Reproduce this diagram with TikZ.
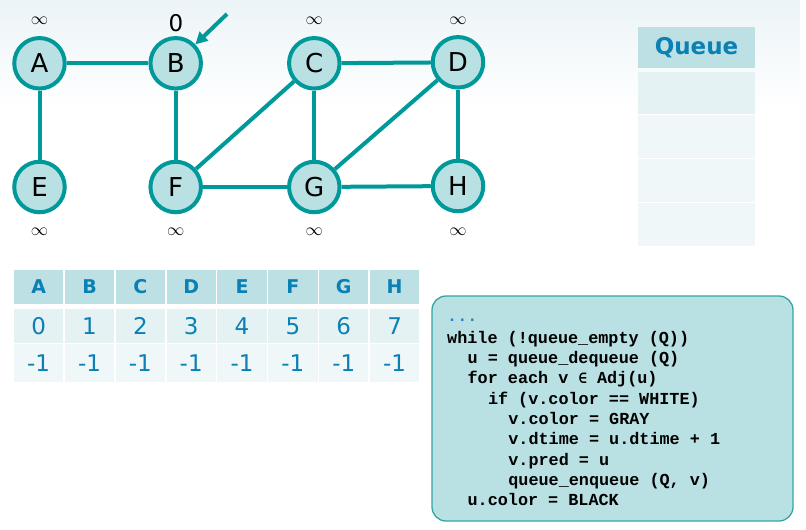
\documentclass[tikz,border=0pt]{standalone}
\usepackage{fontspec}
\setmainfont{DejaVu Sans}
\newfontfamily\codefont{Liberation Mono}
\newfontfamily\symfont{DejaVu Sans Mono}
\usetikzlibrary{arrows.meta}
\definecolor{tealA}{RGB}{0,153,153}
\definecolor{nodefill}{RGB}{185,224,227}
\definecolor{hdrfill}{RGB}{188,224,228}
\definecolor{rowA}{RGB}{229,242,244}
\definecolor{rowB}{RGB}{240,247,249}
\definecolor{txtblue}{RGB}{10,128,180}
\definecolor{codefill}{RGB}{185,224,227}
\definecolor{codeedge}{RGB}{50,165,165}
\definecolor{dotblue}{RGB}{30,130,210}
\definecolor{bgtop}{RGB}{236,244,247}
\tikzset{
  vert/.style={circle, draw=tealA, line width=4pt, fill=nodefill, minimum size=50.5pt,
    inner sep=0pt, font=\fontsize{26}{26}\selectfont},
  edge/.style={draw=tealA, line width=4pt},
  inflab/.style={inner sep=0pt, font=\fontsize{17}{17}\selectfont},
  hcell/.style={fill=hdrfill, minimum width=49.3pt, minimum height=34.5pt, inner sep=0pt,
    text=txtblue, font=\fontsize{19}{19}\selectfont\bfseries},
  ncell/.style={fill=rowA, minimum width=49.3pt, minimum height=34.8pt, inner sep=0pt,
    text=txtblue, font=\fontsize{23}{23}\selectfont},
  pcell/.style={fill=rowB, minimum width=49.3pt, minimum height=37.7pt, inner sep=0pt,
    text=txtblue, font=\fontsize{23}{23}\selectfont},
  qhead/.style={fill=hdrfill, minimum width=117pt, minimum height=41pt, inner sep=0pt,
    text=txtblue, font=\fontsize{23}{23}\selectfont\bfseries},
  qrow/.style={minimum width=117pt, minimum height=42.5pt, inner sep=0pt},
  codeline/.style={anchor=base west, inner sep=0pt, font=\fontsize{16.8}{16.8}\codefont\bfseries},
}
\begin{document}
\begin{tikzpicture}[x=1pt,y=-1pt]
\useasboundingbox (0,0) rectangle (806,530);
\fill[top color=bgtop, bottom color=white] (0,0) rectangle (800,110);

% graph vertices
\node[vert] (A) at (39.5,63.3) {A};
\node[vert] (B) at (175.7,63.3) {B};
\node[vert] (C) at (314.3,63.3) {C};
\node[vert] (D) at (458,62.3) {D};
\node[vert] (E) at (39.5,187) {E};
\node[vert] (F) at (175.7,187) {F};
\node[vert] (G) at (314.3,187) {G};
\node[vert] (H) at (458,186) {H};

% edges
\draw[edge] (A) -- (B);
\draw[edge] (A) -- (E);
\draw[edge] (B) -- (F);
\draw[edge] (C) -- (D);
\draw[edge] (C) -- (F);
\draw[edge] (C) -- (G);
\draw[edge] (D) -- (G);
\draw[edge] (D) -- (H);
\draw[edge] (F) -- (G);
\draw[edge] (G) -- (H);

% start arrow
\coordinate (arrS) at (227,14);
\draw[edge, -{Triangle[length=12pt,width=12pt]}] (arrS) -- (B);

% distance labels
\node[inflab] (lA) at (39.5,20.5) {$\infty$};
\node[inner sep=0pt, font=\fontsize{23}{23}\selectfont] (lB) at (176,23.5) {0};
\node[inflab] (lC) at (314.3,20.5) {$\infty$};
\node[inflab] (lD) at (458,21) {$\infty$};
\node[inflab] (lE) at (39.5,231.7) {$\infty$};
\node[inflab] (lF) at (175.7,231.7) {$\infty$};
\node[inflab] (lG) at (314.3,231.7) {$\infty$};
\node[inflab] (lH) at (458,231.7) {$\infty$};

% queue
\node[qhead] (qh) at (696.5,47.5) {Queue};
\node[qrow, fill=rowA] (q1) at (696.5,93) {};
\node[qrow, fill=rowB] (q2) at (696.5,136.5) {};
\node[qrow, fill=rowB] (q3) at (696.5,180.5) {};
\node[qrow, fill=rowB] (q4) at (696.5,224.5) {};

% table
\foreach \L [count=\i from 0] in {A,B,C,D,E,F,G,H}{
  \pgfmathsetmacro{\cx}{14+\i*50.85+24.65}
  \node[hcell] (h\L) at (\cx,286.8) {\L};
  \node[ncell] (n\L) at (\cx,325.9) {\i};
  \node[pcell] (p\L) at (\cx,363.2) {-1};
}

% code box
\node[draw=codeedge, line width=1.3pt, fill=codefill, rounded corners=14pt,
  minimum width=361pt, minimum height=225pt, inner sep=0pt] (code) at (612.5,408.5) {};
\node[codeline, text=dotblue] (c0) at (447,321) {...};
\node[codeline] (c1) at (447,343.3) {while (!queue\_empty (Q))};
\node[codeline] (c2) at (467.4,363.6) {u = queue\_dequeue (Q)};
\node[codeline] (c3) at (467.4,383.9) {for each v {\symfont\bfseries\fontsize{14}{14}\selectfont ∈} Adj(u)};
\node[codeline] (c4) at (487.8,404.2) {if (v.color == WHITE)};
\node[codeline] (c5) at (508.2,424.5) {v.color = GRAY};
\node[codeline] (c6) at (508.2,444.8) {v.dtime = u.dtime + 1};
\node[codeline] (c7) at (508.2,465.1) {v.pred = u};
\node[codeline] (c8) at (508.2,485.4) {queue\_enqueue (Q, v)};
\node[codeline] (c9) at (467.4,505.7) {u.color = BLACK};
\end{tikzpicture}
\end{document}
